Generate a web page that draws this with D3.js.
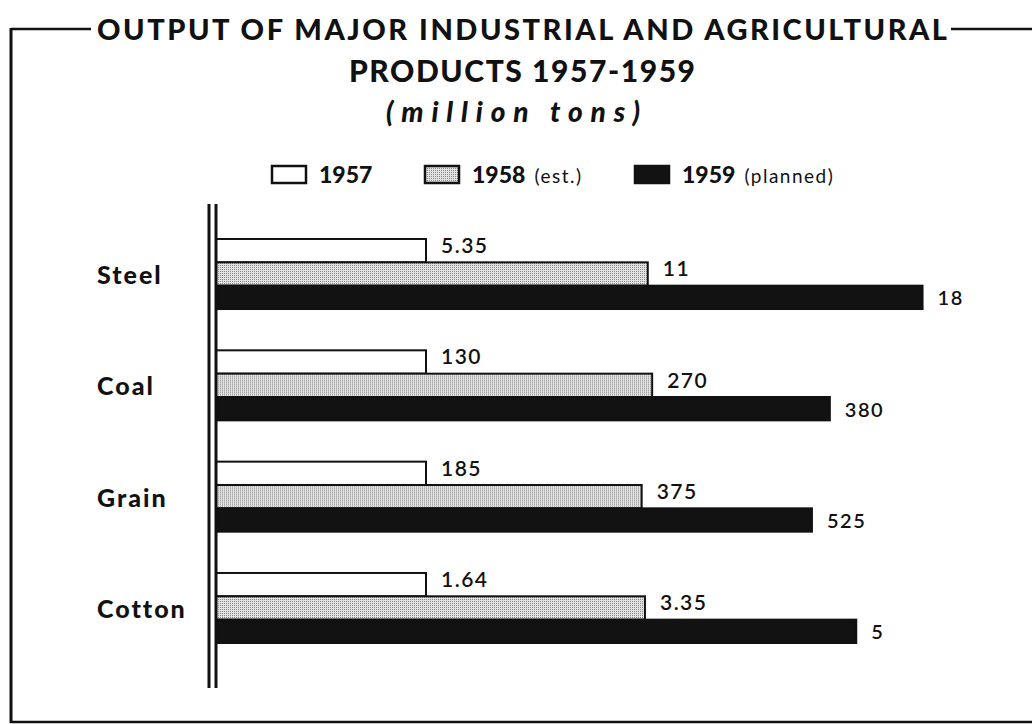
<!DOCTYPE html>
<html>
<head>
<meta charset="utf-8">
<script src="https://cdn.jsdelivr.net/npm/d3@7/dist/d3.min.js"></script>
<style>
  html, body { margin: 0; padding: 0; background: #ffffff; }
  svg { display: block; }
  text { font-family: Lato, "Open Sans", "DejaVu Sans", sans-serif; fill: #111; }
</style>
</head>
<body>
<svg id="chart" width="1032" height="724"></svg>
<script>
// ---- data ----
const categories = ["Steel", "Coal", "Grain", "Cotton"];
const series = ["1957", "1958", "1959"];
const seriesNotes = ["", "(est.)", "(planned)"];
const values1957 = [5.35, 130, 185, 1.64];
const values1958 = [11, 270, 375, 3.35];
const values1959 = [18, 380, 525, 5];
const valueLabels1957 = ["5.35", "130", "185", "1.64"];
const valueLabels1958 = ["11", "270", "375", "3.35"];
const valueLabels1959 = ["18", "380", "525", "5"];
const titleLines = ["OUTPUT OF MAJOR INDUSTRIAL AND AGRICULTURAL", "PRODUCTS 1957-1959"];
const subtitle = "(million tons)";

const seriesValues = [values1957, values1958, values1959];
const seriesLabels = [valueLabels1957, valueLabels1958, valueLabels1959];

const svg = d3.select("#chart");

// patterns
const defs = svg.append("defs");
const dot = defs.append("pattern").attr("id", "stipple")
  .attr("patternUnits", "userSpaceOnUse").attr("width", 2).attr("height", 2);
dot.append("rect").attr("width", 2).attr("height", 2).attr("fill", "#e2e2e2");
dot.append("rect").attr("width", 1).attr("height", 1).attr("fill", "#8a8a8a");

const fills = ["#ffffff", "url(#stipple)", "#121212"];

// frame
const ink = "#111";
svg.append("line").attr("x1", 11).attr("y1", 29).attr("x2", 91).attr("y2", 29).attr("stroke", ink).attr("stroke-width", 2.5);
svg.append("line").attr("x1", 951).attr("y1", 29).attr("x2", 1032).attr("y2", 29).attr("stroke", ink).attr("stroke-width", 2.5);
svg.append("line").attr("x1", 11).attr("y1", 28).attr("x2", 11).attr("y2", 723).attr("stroke", ink).attr("stroke-width", 3);
svg.append("line").attr("x1", 10).attr("y1", 722).attr("x2", 1032).attr("y2", 722).attr("stroke", ink).attr("stroke-width", 2.5);

// titles
svg.append("text").attr("x", 97).attr("y", 40)
  .attr("textLength", 850).attr("lengthAdjust", "spacing")
  .style("font-size", "29px").style("font-weight", 900)
  .text(titleLines[0]);
svg.append("text").attr("x", 349).attr("y", 82)
  .attr("textLength", 346).attr("lengthAdjust", "spacing")
  .style("font-size", "30px").style("font-weight", 900)
  .text(titleLines[1]);
svg.append("text").attr("x", 386).attr("y", 122)
  .attr("textLength", 254).attr("lengthAdjust", "spacing")
  .style("font-size", "28px").style("font-weight", 900).style("font-style", "italic")
  .text(subtitle);

// legend
const legendX = [272, 425, 635];
const lg = svg.append("g").selectAll("g").data(series).join("g")
  .attr("transform", (d, i) => `translate(${legendX[i]},166)`);
lg.append("rect").attr("x", 0).attr("y", 0).attr("width", 34).attr("height", 17)
  .attr("fill", (d, i) => fills[i]).attr("stroke", ink).attr("stroke-width", 2.5);
const lt = lg.append("text").attr("x", 47).attr("y", 17);
lt.append("tspan").style("font-size", "23px").style("font-weight", 900).text(d => d);
lt.append("tspan").attr("dx", 9).style("font-size", "19px").style("font-weight", 400)
  .style("letter-spacing", "1.5px").text((d, i) => seriesNotes[i]);

// scales
const y = d3.scaleBand().domain(categories).range([239, 643]).paddingInner(0.371).paddingOuter(0);
const yInner = d3.scaleBand().domain(series).range([0, y.bandwidth()]).padding(0);
// bars are drawn as an index of the 1957 output of each product
const x = d3.scaleLinear().domain([0, 1]).range([216, 426]);

// category labels
svg.append("g").selectAll("text").data(categories).join("text")
  .attr("x", 97).attr("y", d => y(d) + y.bandwidth() / 2 + 10)
  .style("font-size", "25px").style("font-weight", 900).style("letter-spacing", "2px")
  .text(d => d);

// bars
const groups = svg.append("g").selectAll("g").data(categories).join("g")
  .attr("transform", d => `translate(0,${y(d)})`);

series.forEach((s, si) => {
  groups.append("rect")
    .attr("x", x(0))
    .attr("y", yInner(s))
    .attr("width", (d, ci) => x(seriesValues[si][ci] / values1957[ci]) - x(0))
    .attr("height", yInner.bandwidth())
    .attr("fill", fills[si])
    .attr("stroke", ink).attr("stroke-width", 2);
  groups.append("text")
    .attr("x", (d, ci) => x(seriesValues[si][ci] / values1957[ci]) + 15)
    .attr("y", si === 2 ? yInner(s) + yInner.bandwidth() / 2 + 8 : yInner(s) + 14)
    .style("font-size", si === 2 ? "20px" : "21px").style("font-weight", 600)
    .style("letter-spacing", "1.5px")
    .text((d, ci) => seriesLabels[si][ci]);
});

// double axis line
svg.append("line").attr("x1", 209).attr("x2", 209).attr("y1", 204).attr("y2", 688).attr("stroke", ink).attr("stroke-width", 3);
svg.append("line").attr("x1", 216).attr("x2", 216).attr("y1", 204).attr("y2", 688).attr("stroke", ink).attr("stroke-width", 3);
</script>
</body>
</html>
